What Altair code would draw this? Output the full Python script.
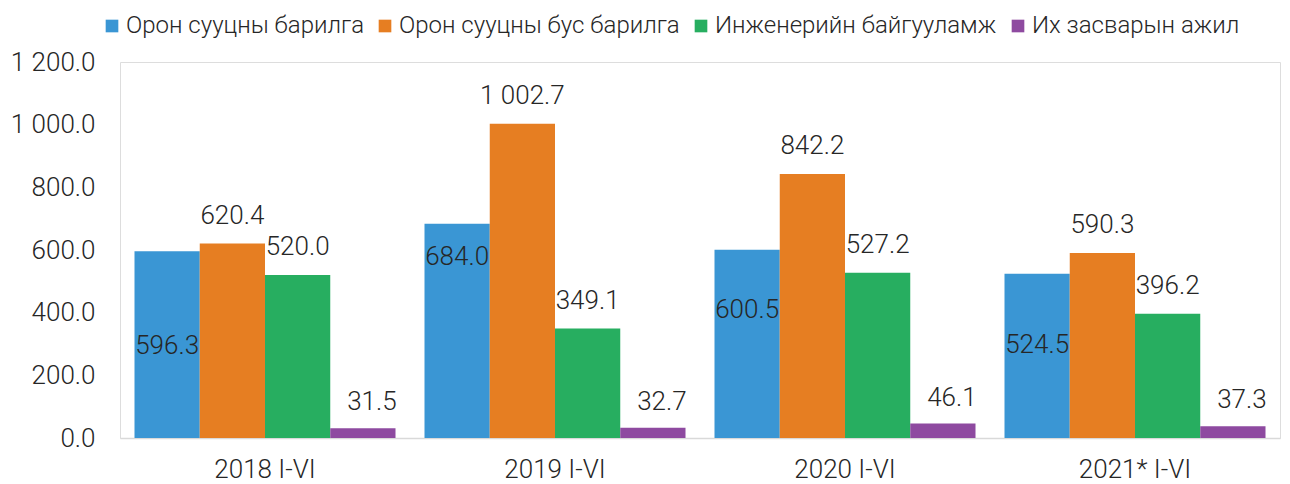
import altair as alt
import pandas as pd

periods = ["2018 I-VI", "2019 I-VI", "2020 I-VI", "2021* I-VI"]
series = ["Орон сууцны барилга", "Орон сууцны бус барилга", "Инженерийн байгууламж", "Их засварын ажил"]
colors = ["#3A96D4", "#E67E22", "#27AE60", "#8E4AA0"]

residential = [596.3, 684.0, 600.5, 524.5]
nonresidential = [620.4, 1002.7, 842.2, 590.3]
engineering = [520.0, 349.1, 527.2, 396.2]
repair = [31.5, 32.7, 46.1, 37.3]
# level (in data units) at which the residential labels sit inside the bars
residential_label_level = [294, 578, 409, 297]

values = [residential, nonresidential, engineering, repair]
rows = []
for si, s in enumerate(series):
    for pi, p in enumerate(periods):
        rows.append({
            "period": p,
            "series": s,
            "value": values[si][pi],
            "label_y": residential_label_level[pi] if si == 0 else values[si][pi],
        })
df = pd.DataFrame(rows)

FONT = "Roboto"
TXT = "#262626"

x_enc = alt.X(
    "period:N", sort=periods, title=None,
    scale=alt.Scale(paddingInner=0.1, paddingOuter=0.05),
    axis=alt.Axis(labelAngle=0, ticks=False, domainColor="#D9D9D9", domainWidth=1.5,
                  labelFontSize=26, labelPadding=18, labelColor=TXT, labelFont=FONT,
                  labelFontWeight=300),
)
xo_enc = alt.XOffset("series:N", sort=series, scale=alt.Scale(paddingInner=0, paddingOuter=0))
y_scale = alt.Scale(domain=[0, 1200])

base = alt.Chart(df).transform_calculate(
    lab="replace(format(datum.value, ',.1f'), ',', ' ')"
)

bars = base.mark_bar().encode(
    x=x_enc,
    xOffset=xo_enc,
    y=alt.Y("value:Q", scale=y_scale, title=None,
            axis=alt.Axis(values=[0, 200, 400, 600, 800, 1000, 1200], grid=False, domain=False,
                          ticks=False, labelFontSize=26, labelPadding=25, labelColor=TXT,
                          labelFont=FONT, labelFontWeight=300,
                          labelExpr="replace(format(datum.value, ',.1f'), ',', ' ')")),
    color=alt.Color("series:N", sort=series, scale=alt.Scale(domain=series, range=colors),
                    legend=alt.Legend(title=None, orient="none", direction="horizontal",
                                      legendX=-20, legendY=-48, symbolType="square",
                                      symbolSize=160, symbolStrokeWidth=0, labelFontSize=24,
                                      labelFont=FONT, labelFontWeight=300, labelColor=TXT,
                                      labelOffset=2, columnPadding=9, labelLimit=400)),
)

def text_layer(filt, dx, dy, ycol):
    return base.transform_filter(filt).mark_text(
        dx=dx, dy=dy, fontSize=26, font=FONT, fontWeight=300, color=TXT, baseline="middle"
    ).encode(
        x=x_enc,
        xOffset=xo_enc,
        y=alt.Y(f"{ycol}:Q", scale=y_scale),
        text="lab:N",
    )

t_res = text_layer(alt.datum.series == series[0], 0, 0, "label_y")
t_non = text_layer(alt.datum.series == series[1], 0, -28, "value")
t_eng = text_layer(alt.datum.series == series[2], 0, -28, "value")
t_rep = text_layer(alt.datum.series == series[3], 9, -26, "value")

chart = alt.layer(bars, t_res, t_non, t_eng, t_rep).properties(
    width=1160, height=376,
    autosize=alt.AutoSizeParams(type="none"),
    padding={"left": 120, "top": 62, "right": 10, "bottom": 46},
).configure_view(stroke=None).configure(background="white")

chart.save("out.html", embed_options={"renderer": "svg", "actions": False})
